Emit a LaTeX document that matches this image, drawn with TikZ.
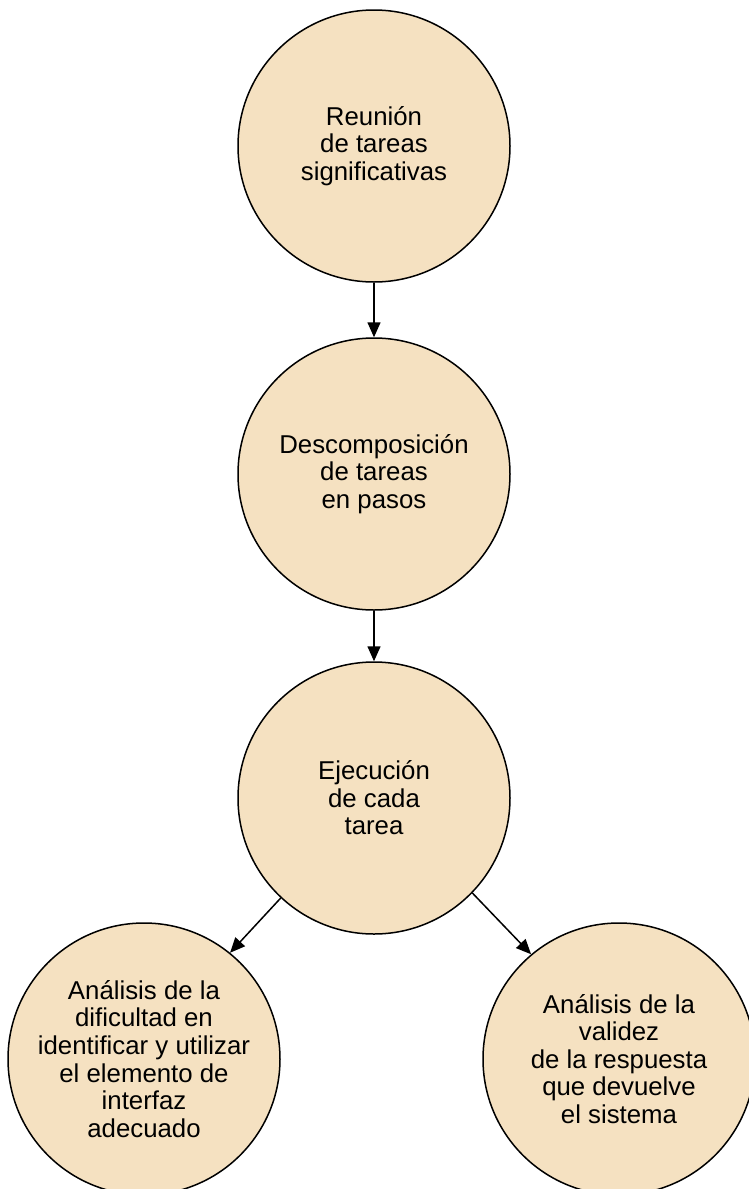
\documentclass[tikz,border=0pt]{standalone}
\usepackage{fontspec}
\setmainfont{Liberation Sans}
\usetikzlibrary{arrows.meta}
\definecolor{circfill}{HTML}{F5E1C1}
\tikzset{
  bubble/.style={circle, draw=black, line width=1.5pt, fill=circfill, minimum size=272pt, inner sep=0pt, align=center, font=\fontsize{25.8}{27.6}\selectfont},
  conn/.style={line width=1.5pt, -{Triangle[length=15pt,width=13pt]}}
}
\begin{document}
\begin{tikzpicture}[x=1pt,y=-1pt]
\useasboundingbox (0,0) rectangle (749,1189);
\clip (0,0) rectangle (749,1189);
\node[bubble] (a) at (374,146) {Reunión\\de tareas\\significativas};
\node[bubble] (b) at (374,474) {Descomposición\\de tareas\\en pasos};
\node[bubble] (c) at (374,798) {Ejecución\\de cada\\tarea};
\node[bubble] (d) at (144,1059) {Análisis de la\\dificultad en\\identificar y utilizar\\el elemento de\\interfaz\\adecuado};
\node[bubble] (e) at (619,1059) {Análisis de la\\validez\\de la respuesta\\que devuelve\\el sistema};
\draw[conn] (a) -- (b);
\draw[conn] (b) -- (c);
\draw[conn] (c.-133) -- (d.51);
\draw[conn] (c.-44) -- (e.130);
\end{tikzpicture}
\end{document}
